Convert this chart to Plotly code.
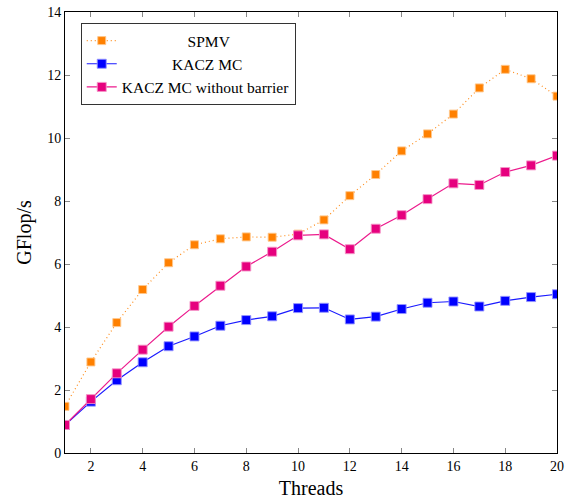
import plotly.graph_objects as go

threads = list(range(1, 21))
spmv = [1.48, 2.89, 4.14, 5.19, 6.04, 6.61, 6.80, 6.86, 6.85, 6.95,
        7.40, 8.17, 8.84, 9.59, 10.13, 10.76, 11.59, 12.18, 11.88, 11.33]
kacz = [0.89, 1.63, 2.31, 2.88, 3.39, 3.70, 4.04, 4.22, 4.34, 4.60,
        4.61, 4.24, 4.33, 4.57, 4.77, 4.81, 4.65, 4.83, 4.95, 5.04]
kacz_nb = [0.89, 1.71, 2.53, 3.28, 4.01, 4.67, 5.31, 5.92, 6.39, 6.91,
           6.94, 6.47, 7.12, 7.55, 8.06, 8.56, 8.51, 8.92, 9.13, 9.44]
names = ["SPMV", "KACZ MC", "KACZ MC without barrier"]
x_ticks = list(range(2, 21, 2))
y_ticks = list(range(0, 15, 2))

NB = "\u00a0"
pad = [NB * 17, NB * 13, ""]
FF = "Liberation Serif, Times New Roman, serif"

fig = go.Figure()
fig.add_trace(go.Scatter(
    x=threads, y=spmv, name=pad[0] + names[0], mode="lines+markers",
    line=dict(color="#FF8C1A", width=1.2, dash="1px,3px"),
    marker=dict(symbol="square", size=8, color="#FF8000",
                line=dict(color="rgba(255,200,140,0.9)", width=1))))
fig.add_trace(go.Scatter(
    x=threads, y=kacz, name=pad[1] + names[1], mode="lines+markers",
    line=dict(color="#1A1AFF", width=1.2),
    marker=dict(symbol="square", size=9, color="#0000FF",
                line=dict(color="rgba(150,150,255,0.9)", width=1))))
fig.add_trace(go.Scatter(
    x=threads, y=kacz_nb, name=pad[2] + names[2], mode="lines+markers",
    line=dict(color="#EC1A8C", width=1.2),
    marker=dict(symbol="square", size=9, color="#E6007E",
                line=dict(color="rgba(245,150,200,0.9)", width=1))))

fig.update_layout(
    width=571, height=503,
    margin=dict(l=65, r=14, t=12, b=50, autoexpand=False),
    plot_bgcolor="white", paper_bgcolor="white",
    font=dict(family=FF, color="black", size=14),
    showlegend=True,
    legend=dict(x=0.032, y=0.975, xanchor="left", yanchor="top",
                bordercolor="#333", borderwidth=1, bgcolor="white",
                font=dict(size=15.5, family=FF),
                tracegroupgap=0, itemwidth=30),
    xaxis=dict(range=[1, 20], tickvals=x_ticks, ticks="inside", ticklen=5,
               tickcolor="#888", showline=True, linecolor="black", linewidth=1,
               mirror="allticks", showgrid=False, zeroline=False,
               automargin=False,
               tickfont=dict(size=14, family=FF),
               title=dict(text="Threads", font=dict(size=20, family=FF), standoff=8)),
    yaxis=dict(range=[0, 14], tickvals=y_ticks, ticks="inside", ticklen=5,
               tickcolor="#888", showline=True, linecolor="black", linewidth=1,
               mirror="allticks", showgrid=False, zeroline=False,
               automargin=False,
               tickfont=dict(size=14, family=FF),
               title=dict(text="GFlop/s", font=dict(size=20, family=FF), standoff=10)),
)

fig.write_html("out.html")
